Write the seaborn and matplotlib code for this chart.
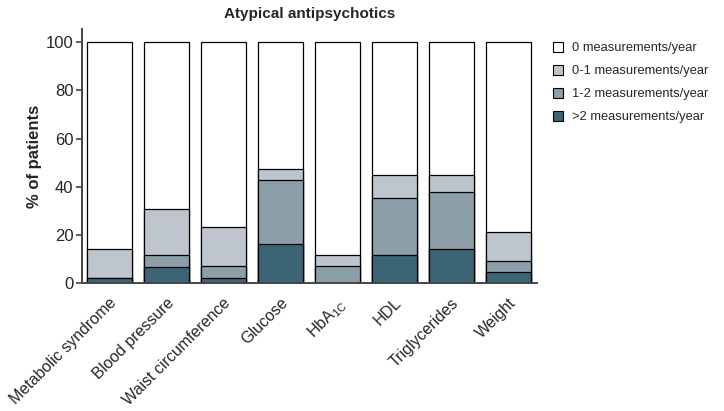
import numpy as np
import pandas as pd
import seaborn as sns
import matplotlib.pyplot as plt
from matplotlib.patches import Patch

# ---- data (% of patients) ----
categories = ["Metabolic syndrome", "Blood pressure", "Waist circumference", "Glucose",
              r"HbA$_{\mathrm{1C}}$", "HDL", "Triglycerides", "Weight"]
gt2 = [2.1, 6.6, 2.1, 16.2, 0.0, 11.6, 13.9, 4.4]        # >2 measurements/year
one_two = [0.0, 4.9, 4.8, 26.4, 6.8, 23.8, 23.8, 4.7]    # 1-2 measurements/year
zero_one = [11.9, 19.1, 16.5, 4.8, 4.8, 9.5, 7.2, 12.1]  # 0-1 measurements/year
series_names = ["0 measurements/year", "0-1 measurements/year",
                "1-2 measurements/year", ">2 measurements/year"]
colors = ["#ffffff", "#bec5cd", "#8c9fa9", "#3b6475"]

sns.set_style("ticks")
plt.rcParams["font.family"] = ["Liberation Sans", "DejaVu Sans"]
plt.rcParams["mathtext.fontset"] = "custom"
plt.rcParams["mathtext.rm"] = "Liberation Sans"
plt.rcParams["mathtext.it"] = "Liberation Sans:italic"

df = pd.DataFrame({"cat": categories, "gt2": gt2, "one_two": one_two, "zero_one": zero_one})
# cumulative tops, drawn back to front
df["top0"] = 100.0
df["top1"] = df["gt2"] + df["one_two"] + df["zero_one"]
df["top2"] = df["gt2"] + df["one_two"]
df["top3"] = df["gt2"]

fig = plt.figure(figsize=(7.24, 4.11), dpi=100)
ax = fig.add_axes([0.113, 0.312, 0.629, 0.617])

for col, c in zip(["top0", "top1", "top2", "top3"], colors):
    sns.barplot(data=df, x="cat", y=col, color=c, width=0.79, edgecolor="black",
                linewidth=0.9, saturation=1, ax=ax)

ax.set_xlim(-0.48, 7.51)
ax.set_ylim(0, 105.5)
ax.set_yticks(np.arange(0, 101, 20))
ax.set_xlabel("")
ax.set_ylabel("% of patients", fontsize=12, fontweight="bold", labelpad=3)
ax.set_title("Atypical antipsychotics", fontsize=11, fontweight="bold", pad=8)
ax.tick_params(axis="y", labelsize=12, length=4, width=1.2, color="#444444", pad=2)
ax.tick_params(axis="x", labelsize=11.5, length=0, pad=9)
plt.setp(ax.get_xticklabels(), rotation=45, ha="right", rotation_mode="anchor")
for s in ["top", "right"]:
    ax.spines[s].set_visible(False)
for s in ["left", "bottom"]:
    ax.spines[s].set_color("#444444")
    ax.spines[s].set_linewidth(1.4)

handles = [Patch(facecolor=c, edgecolor="black", linewidth=0.8) for c in colors]
fig.legend(handles, series_names, loc="upper left", bbox_to_anchor=(0.749, 0.923),
           frameon=False, fontsize=9.3, handlelength=0.78, handleheight=0.78,
           handletextpad=0.75, labelspacing=0.82, borderpad=0.3)

fig.savefig("out.png", dpi=100)
